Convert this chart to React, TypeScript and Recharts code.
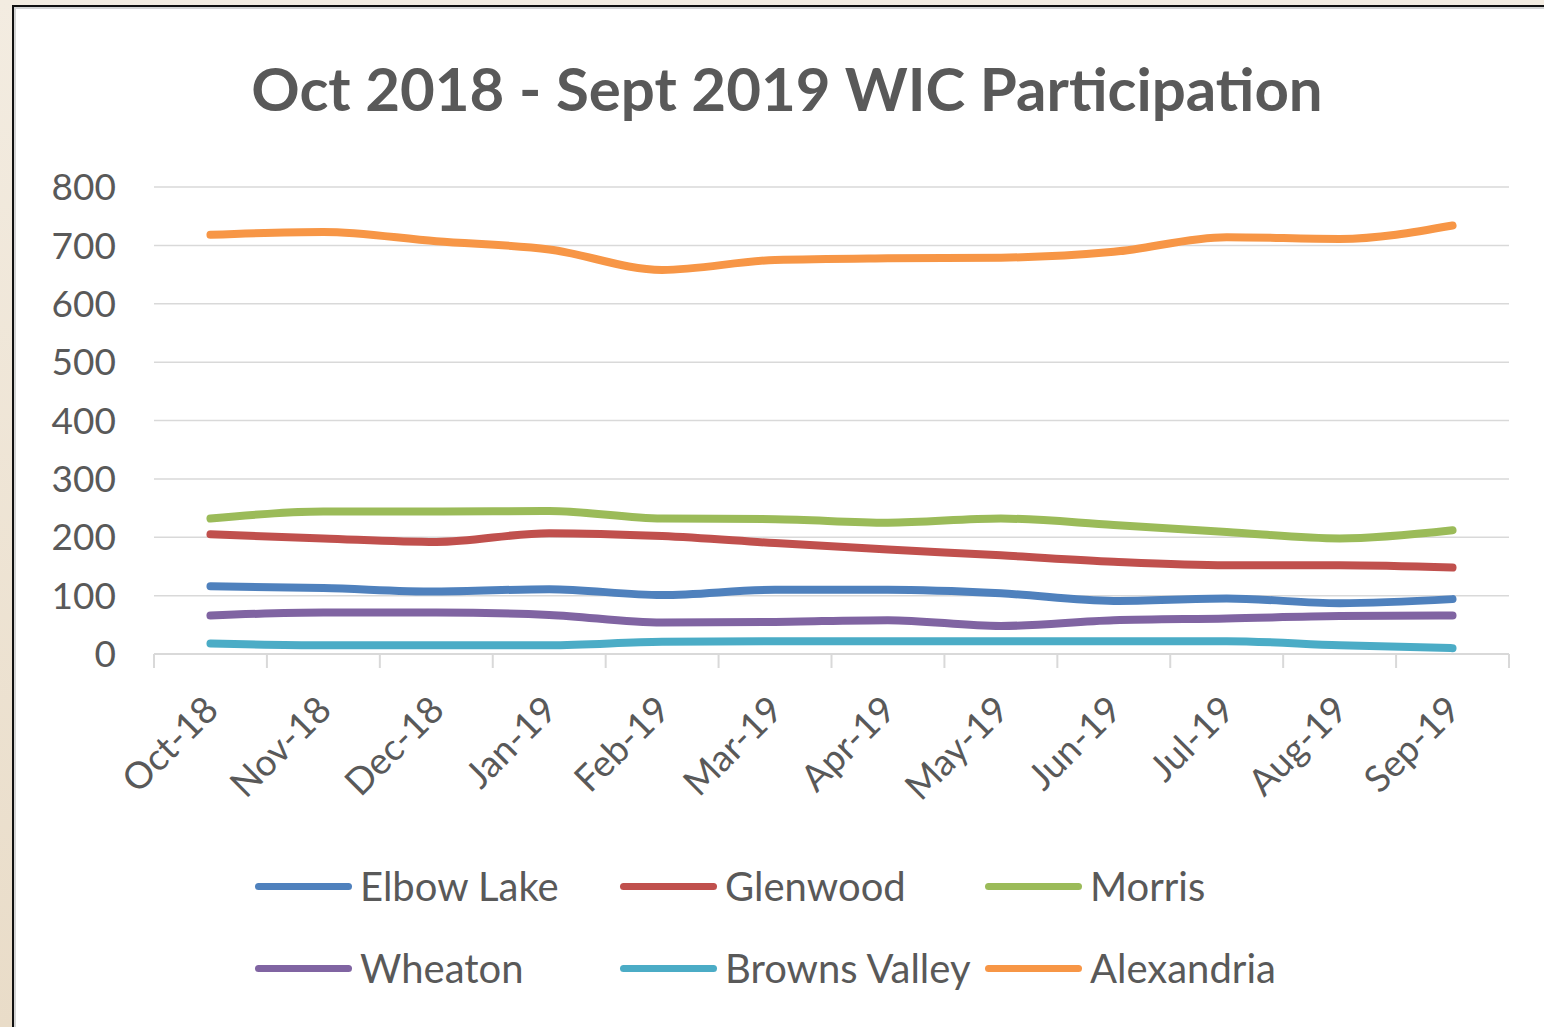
import { CartesianGrid, Line, LineChart, XAxis, YAxis } from 'recharts'

const MONTHS = ['Oct-18', 'Nov-18', 'Dec-18', 'Jan-19', 'Feb-19', 'Mar-19', 'Apr-19', 'May-19', 'Jun-19', 'Jul-19', 'Aug-19', 'Sep-19']

const ELBOW_LAKE = [116, 113, 107, 111, 101, 110, 110, 104, 91, 95, 87, 94]
const GLENWOOD = [205, 198, 192, 207, 202, 190, 179, 169, 158, 152, 152, 148]
const MORRIS = [232, 244, 244, 245, 232, 231, 225, 232, 221, 209, 198, 212]
const WHEATON = [66, 71, 71, 67, 54, 55, 58, 48, 58, 61, 65, 66]
const BROWNS_VALLEY = [18, 15, 15, 15, 21, 22, 22, 22, 22, 22, 15, 10]
const ALEXANDRIA = [718, 723, 707, 693, 658, 675, 678, 679, 689, 714, 711, 734]

const Y_TICKS = [0, 100, 200, 300, 400, 500, 600, 700, 800]

const SERIES = [
  { key: 'elbowLake', name: 'Elbow Lake', color: '#4F81BD', values: ELBOW_LAKE },
  { key: 'glenwood', name: 'Glenwood', color: '#C0504D', values: GLENWOOD },
  { key: 'morris', name: 'Morris', color: '#9BBB59', values: MORRIS },
  { key: 'wheaton', name: 'Wheaton', color: '#8064A2', values: WHEATON },
  { key: 'brownsValley', name: 'Browns Valley', color: '#4BACC6', values: BROWNS_VALLEY },
  { key: 'alexandria', name: 'Alexandria', color: '#F79646', values: ALEXANDRIA },
]

const data = MONTHS.map((month, i) => {
  const row: Record<string, string | number> = { month }
  SERIES.forEach((s) => { row[s.key] = s.values[i] })
  return row
})

const W = 1544
const H = 1027
const PLOT_LEFT = 154
const PLOT_RIGHT = 1509
const PLOT_TOP = 187
const PLOT_BOTTOM = 654
const FONT = 'Lato, "Open Sans", sans-serif'
const TEXT = '#595959'
const GRID = '#d9d9d9'

function MonthTick(props: any) {
  const { x, y, payload, index } = props
  const half = (PLOT_RIGHT - PLOT_LEFT) / MONTHS.length / 2
  const px = x + 10
  const py = y + 58
  return (
    <g>
      <line x1={x - half} y1={y} x2={x - half} y2={y + 14} stroke={GRID} strokeWidth={2} />
      {index === MONTHS.length - 1 && (
        <line x1={x + half} y1={y} x2={x + half} y2={y + 14} stroke={GRID} strokeWidth={2} />
      )}
      <text
        x={px}
        y={py}
        textAnchor="end"
        transform={`rotate(-45, ${px}, ${py})`}
        fill={TEXT}
        fontSize={37}
        fontFamily={FONT}
      >
        {payload.value}
      </text>
    </g>
  )
}

export default function App() {
  return (
    <div
      style={{
        position: 'relative',
        width: W,
        height: H,
        overflow: 'hidden',
        background: 'linear-gradient(180deg, #f3ece1 0%, #e9dcc8 100%)',
      }}
    >
      <style>{'body{margin:0}'}</style>
      <div
        style={{
          position: 'absolute',
          left: 12,
          top: 5,
          width: W,
          height: H,
          background: '#fff',
          borderLeft: '2px solid #111',
          borderTop: '2px solid #111',
          boxShadow: 'inset 2px 2px 0 #d4d4d4',
        }}
      />
      <div
        style={{
          position: 'absolute',
          left: 0,
          width: W,
          top: 50,
          textAlign: 'center',
          paddingLeft: 30,
          boxSizing: 'border-box',
          fontFamily: FONT,
          fontWeight: 700,
          fontSize: 60,
          color: TEXT,
          lineHeight: '76px',
        }}
      >
        Oct 2018 - Sept 2019 WIC Participation
      </div>
      <div style={{ position: 'absolute', left: 0, top: 0 }}>
        <LineChart
          width={W}
          height={H}
          data={data}
          margin={{ top: PLOT_TOP, right: W - PLOT_RIGHT, bottom: 0, left: 0 }}
        >
          <CartesianGrid vertical={false} stroke={GRID} strokeWidth={1.5} />
          <XAxis
            dataKey="month"
            scale="band"
            height={H - PLOT_BOTTOM}
            interval={0}
            tickLine={false}
            tickSize={0}
            tickMargin={0}
            axisLine={{ stroke: GRID, strokeWidth: 2 }}
            tick={<MonthTick />}
          />
          <YAxis
            width={PLOT_LEFT}
            domain={[0, 800]}
            ticks={Y_TICKS}
            axisLine={false}
            tickLine={false}
            tickSize={0}
            tickMargin={38}
            tick={{ fill: TEXT, fontSize: 37, fontFamily: FONT }}
          />
          {SERIES.map((s) => (
            <Line
              key={s.key}
              type="monotone"
              dataKey={s.key}
              name={s.name}
              stroke={s.color}
              strokeWidth={8}
              strokeLinecap="round"
              dot={false}
              isAnimationActive={false}
            />
          ))}
        </LineChart>
      </div>
      <div
        style={{
          position: 'absolute',
          left: 255,
          top: 862,
          display: 'grid',
          gridTemplateColumns: '365px 365px 365px',
          rowGap: 34,
          fontFamily: FONT,
          fontSize: 40,
          color: TEXT,
        }}
      >
        {SERIES.map((s) => (
          <div key={s.key} style={{ display: 'flex', alignItems: 'center', height: 48 }}>
            <span
              style={{
                display: 'inline-block',
                width: 97,
                height: 7,
                borderRadius: 4,
                background: s.color,
                marginRight: 8,
              }}
            />
            <span>{s.name}</span>
          </div>
        ))}
      </div>
    </div>
  )
}
